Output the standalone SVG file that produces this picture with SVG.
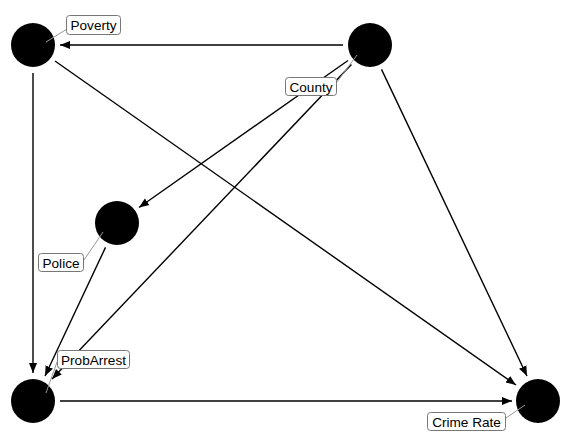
<svg xmlns="http://www.w3.org/2000/svg" width="575" height="443" viewBox="0 0 575 443">
<defs>
<marker id="arr" viewBox="0 0 10 10" refX="10" refY="5" markerWidth="10" markerHeight="10" markerUnits="userSpaceOnUse" orient="auto">
<path d="M0,1 L10,5 L0,9 Z" fill="#000"/>
</marker>
<style>
.edge{stroke:#000;stroke-width:1.4;fill:none;marker-end:url(#arr)}
.node{fill:#000}
.lead{stroke:#999;stroke-width:1}
.box{fill:#fff;stroke:#777;stroke-width:1}
.lbl{font-family:"Liberation Sans",Arial,sans-serif;font-size:13.6px;fill:#000;text-anchor:middle}
</style>
</defs>
<rect width="575" height="443" fill="#fff"/>
<g id="connectors">
<line class="edge" x1="343" y1="45" x2="60" y2="45"/>
<line class="edge" x1="33" y1="73" x2="33" y2="373"/>
<line class="edge" x1="55" y1="61" x2="516" y2="385"/>
<line class="edge" x1="348" y1="60.5" x2="139" y2="207.5"/>
<line class="edge" x1="351.4" y1="64.6" x2="52" y2="379"/>
<line class="edge" x1="381.5" y1="69.4" x2="527" y2="376"/>
<line class="edge" x1="105.5" y1="247.4" x2="45" y2="376"/>
<line class="edge" x1="60" y1="401" x2="512" y2="401"/>
</g>
<g id="node-poverty">
<circle class="node" cx="33" cy="45" r="22"/>
<line class="lead" x1="46" y1="42" x2="67" y2="29"/>
<rect class="box" x="66.5" y="15.5" width="54" height="19" rx="3"/>
<text class="lbl" x="93.5" y="30">Poverty</text>
</g>
<g id="node-county">
<circle class="node" cx="370" cy="45" r="22"/>
<line class="lead" x1="357" y1="55" x2="337" y2="82"/>
<rect class="box" x="285.5" y="77.5" width="51" height="18" rx="3"/>
<text class="lbl" x="311" y="91.5">County</text>
</g>
<g id="node-police">
<circle class="node" cx="117" cy="223" r="22"/>
<line class="lead" x1="103" y1="232" x2="84" y2="260"/>
<rect class="box" x="38.5" y="253.5" width="45" height="18" rx="3"/>
<text class="lbl" x="61" y="267.5">Police</text>
</g>
<g id="node-probarrest">
<circle class="node" cx="33" cy="401" r="22"/>
<line class="lead" x1="46" y1="393" x2="57" y2="362"/>
<rect class="box" x="57.5" y="350.5" width="72" height="18" rx="3"/>
<text class="lbl" x="93.5" y="364.5">ProbArrest</text>
</g>
<g id="node-crimerate">
<circle class="node" cx="538" cy="401" r="22"/>
<line class="lead" x1="525" y1="405" x2="506" y2="418"/>
<rect class="box" x="427.5" y="412.5" width="78" height="18" rx="3"/>
<text class="lbl" x="466.5" y="426.5">Crime Rate</text>
</g>
</svg>
